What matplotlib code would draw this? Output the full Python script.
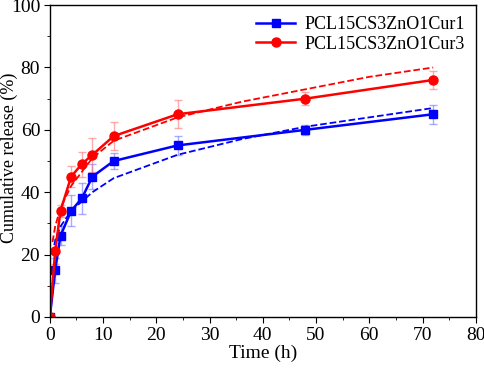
import matplotlib
matplotlib.use("Agg")
import matplotlib.pyplot as plt
from matplotlib.ticker import MultipleLocator

plt.rcParams['font.family'] = ['Liberation Serif', 'DejaVu Serif']

# release data
time = [0, 1, 2, 4, 6, 8, 12, 24, 48, 72]
cur1 = [0, 15, 26, 34, 38, 45, 50, 55, 60, 65]
cur1_err = [0, 4, 3, 5, 5, 4, 2.5, 3, 1.5, 3]
cur3 = [0, 21, 34, 45, 49, 52, 58, 65, 70, 76]
cur3_err = [0, 4, 2, 3.5, 4, 5.5, 4.5, 4.5, 2, 3]

# fitted curves (dashed)
fit_t = [0.5, 1, 2, 4, 8, 12, 24, 36, 48, 60, 72]
fit1 = [20, 24.5, 29, 34, 40, 44.5, 52, 57, 61, 64, 67]
fit3 = [24, 29, 35, 42, 51, 56.5, 64, 69, 73, 77, 80]

fig = plt.figure(figsize=(4.84, 3.68), dpi=100)
ax = fig.add_axes([0.103, 0.139, 0.88, 0.847])

ax.errorbar(time, cur1, yerr=cur1_err, fmt='none', ecolor=(0.45, 0.45, 1.0, 0.6),
            elinewidth=1, capsize=3)
ax.errorbar(time, cur3, yerr=cur3_err, fmt='none', ecolor=(1.0, 0.45, 0.45, 0.6),
            elinewidth=1, capsize=3)
ax.plot(fit_t, fit1, '--', color='#0000ff', lw=1.3)
ax.plot(fit_t, fit3, '--', color='#ff0000', lw=1.3)
ax.plot(time, cur1, '-s', color='#0000ff', lw=1.8, ms=6, label='PCL15CS3ZnO1Cur1')
ax.plot(time, cur3, '-o', color='#ff0000', lw=1.8, ms=6.5, label='PCL15CS3ZnO1Cur3')

ax.set_xlim(0, 80)
ax.set_ylim(0, 100)
ax.xaxis.set_major_locator(MultipleLocator(10))
ax.xaxis.set_minor_locator(MultipleLocator(5))
ax.yaxis.set_major_locator(MultipleLocator(20))
ax.yaxis.set_minor_locator(MultipleLocator(10))
ax.tick_params(which='both', direction='out', labelsize=14)
ax.tick_params(which='major', length=4, pad=3)
ax.tick_params(which='minor', length=2.5)
for s in ax.spines.values():
    s.set_linewidth(1)

ax.set_xlabel('Time (h)', fontsize=14, labelpad=1)
ax.set_ylabel('Cumulative release (%)', fontsize=13)
ax.yaxis.set_label_coords(-0.075, 0.51)
ax.legend(loc='upper right', frameon=False, fontsize=13, handlelength=2.2,
          borderaxespad=0.2, labelspacing=0.15, handletextpad=0.5)

fig.savefig('out.png', dpi=100)
